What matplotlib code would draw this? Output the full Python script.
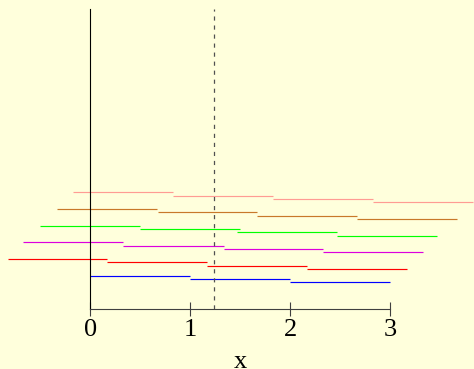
import matplotlib
matplotlib.use("Agg")
import matplotlib.pyplot as plt
import matplotlib.transforms as mtransforms

plt.rcParams['font.family'] = ['Liberation Serif', 'DejaVu Serif']
plt.rcParams['lines.scale_dashes'] = False

# Data: segment start x-values and y-levels for each step series (each segment has length 1)
seg_len = 1.0
blue_x = [0.0, 1.0, 2.0]
blue_y = [10, 9, 8]
red_x = [-0.83, 0.17, 1.17, 2.17]
red_y = [15, 14, 13, 12]
magenta_x = [-0.67, 0.33, 1.33, 2.33]
magenta_y = [20, 19, 18, 17]
green_x = [-0.5, 0.5, 1.47, 2.47]
green_y = [25, 24, 23, 22]
brown_x = [-0.33, 0.67, 1.67, 2.67]
brown_y = [30, 29, 28, 27]
pink_x = [-0.17, 0.83, 1.83, 2.83]
pink_y = [35, 34, 33, 32]

series = [
    (blue_x, blue_y, '#0000FF'),
    (red_x, red_y, '#FF0000'),
    (magenta_x, magenta_y, '#DD00DD'),
    (green_x, green_y, '#00FF00'),
    (brown_x, brown_y, '#C8782A'),
    (pink_x, pink_y, '#FF9C94'),
]

dashed_x = 1.235
y_top = 90
xticks = [0, 1, 2, 3]
xtick_labels = ['0', '1', '2', '3']

bg = '#FFFFDC'
W, H = 474, 369
fig = plt.figure(figsize=(W / 100, H / 100), dpi=100, facecolor=bg)
ax = fig.add_axes([0, (H - 309) / H, 1, 309 / H])
ax.set_facecolor(bg)
ax.set_xlim(-0.905, 3.835)
ax.set_ylim(0, 309 / 3.333)

for xs, ys, c in series:
    ax.hlines(ys, xs, [x + seg_len for x in xs], colors=c, linewidth=0.85)

ax.vlines(dashed_x, 0, y_top, colors='#505050', linewidth=0.9,
          linestyles=(0, (3.0, 3.5)))

for s in ['top', 'right']:
    ax.spines[s].set_visible(False)
ax.spines['left'].set_position(('data', 0))
ax.spines['left'].set_bounds(0, y_top)
ax.spines['left'].set_color('black')
ax.spines['left'].set_linewidth(0.8)
ax.spines['bottom'].set_bounds(0, 3)
ax.spines['bottom'].set_color('#404040')
ax.spines['bottom'].set_linewidth(0.8)

ax.set_yticks([])
ax.set_xticks(xticks)
ax.set_xticklabels(xtick_labels)
ax.tick_params(axis='x', direction='inout', length=10, width=0.8,
               color='#404040', labelsize=19, pad=2.5, labelcolor='black')

trans = mtransforms.blended_transform_factory(ax.transData, fig.transFigure)
ax.text(1.5, 0.004, 'x', transform=trans, ha='center', va='baseline',
        fontsize=19, color='black')

fig.savefig('out.png', dpi=100, facecolor=bg)
